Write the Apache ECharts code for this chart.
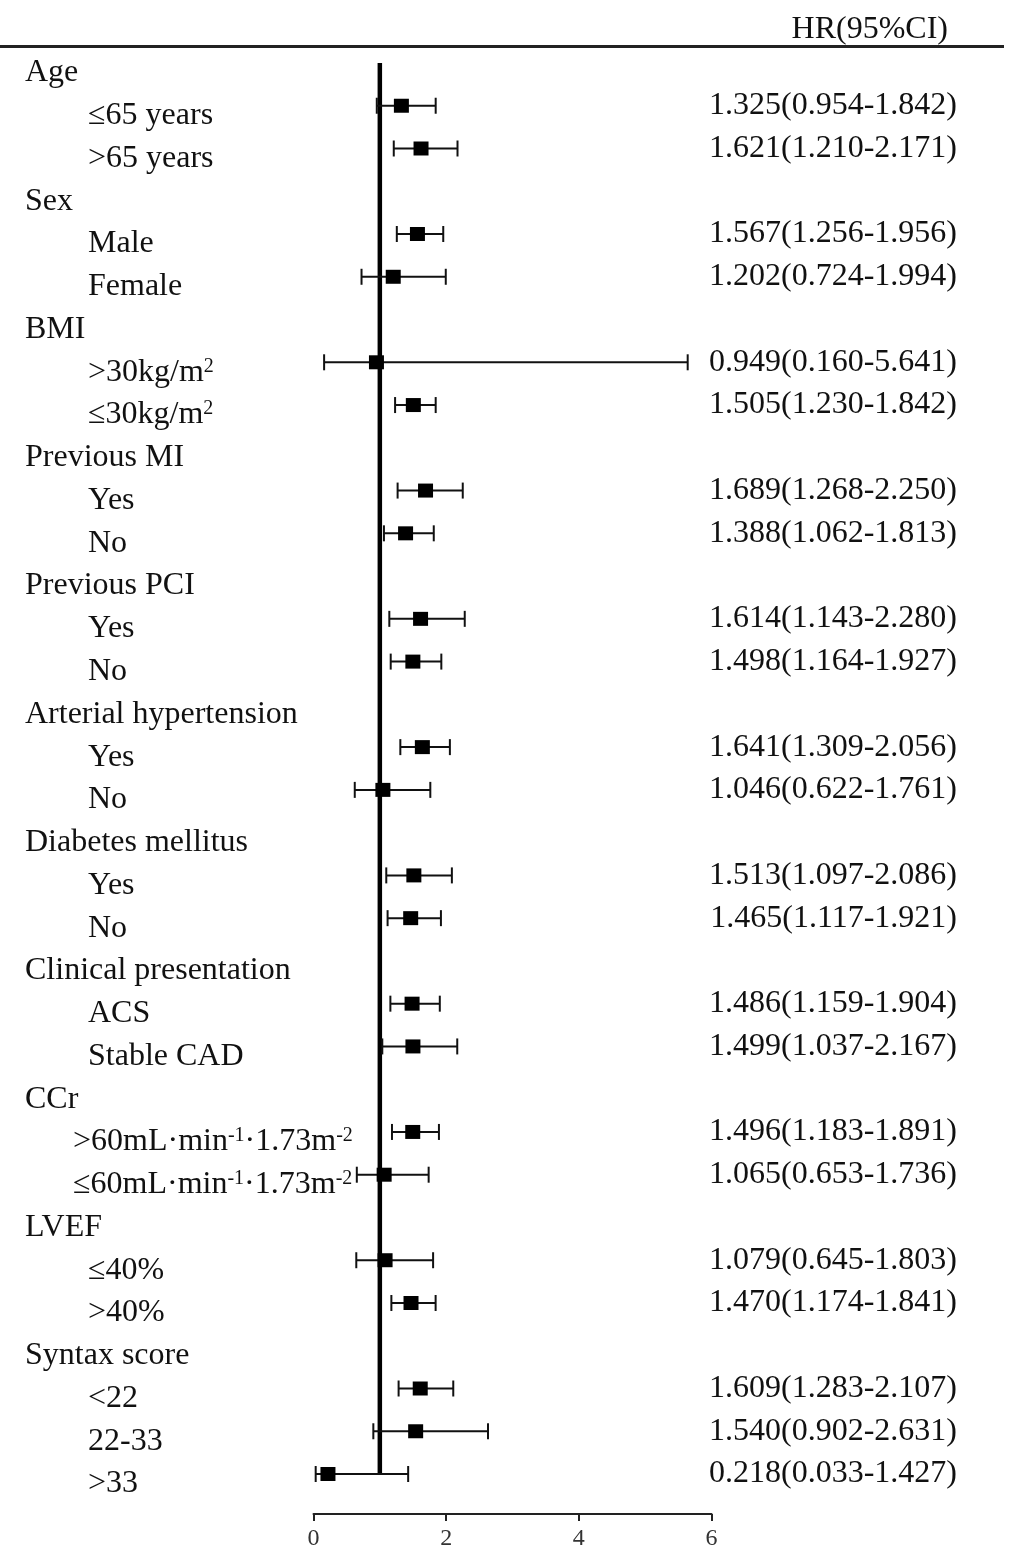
<!DOCTYPE html>
<html><head><meta charset="utf-8">
<script src="https://cdn.jsdelivr.net/npm/echarts@6/dist/echarts.min.js"></script>
<style>html,body{margin:0;padding:0;background:#fff}#c{width:1016px;height:1549px}</style>
</head><body><div id="c"></div>
<script>
// Row labels (^{...} marks superscript)
const rowLabels = [
  'Age','≤65 years','>65 years',
  'Sex','Male','Female',
  'BMI','>30kg/m^{2}','≤30kg/m^{2}',
  'Previous MI','Yes','No',
  'Previous PCI','Yes','No',
  'Arterial hypertension','Yes','No',
  'Diabetes mellitus','Yes','No',
  'Clinical presentation','ACS','Stable CAD',
  'CCr','>60mL·min^{-1}·1.73m^{-2}','≤60mL·min^{-1}·1.73m^{-2}',
  'LVEF','≤40%','>40%',
  'Syntax score','<22','22-33','>33'
];
// h = group header, s = sub item, w = sub item (less indent)
const rowKinds = [
  'h','s','s','h','s','s','h','s','s','h','s','s','h','s','s','h','s','s',
  'h','s','s','h','s','s','h','w','w','h','s','s','h','s','s','s'
];
const hrValues = [
  null,1.325,1.621, null,1.567,1.202, null,0.949,1.505, null,1.689,1.388,
  null,1.614,1.498, null,1.641,1.046, null,1.513,1.465, null,1.486,1.499,
  null,1.496,1.065, null,1.079,1.470, null,1.609,1.540,0.218
];
const ciLow = [
  null,0.954,1.210, null,1.256,0.724, null,0.160,1.230, null,1.268,1.062,
  null,1.143,1.164, null,1.309,0.622, null,1.097,1.117, null,1.159,1.037,
  null,1.183,0.653, null,0.645,1.174, null,1.283,0.902,0.033
];
const ciHigh = [
  null,1.842,2.171, null,1.956,1.994, null,5.641,1.842, null,2.250,1.813,
  null,2.280,1.927, null,2.056,1.761, null,2.086,1.921, null,1.904,2.167,
  null,1.891,1.736, null,1.803,1.841, null,2.107,2.631,1.427
];
const xTicks = [0, 2, 4, 6];
const refValue = 1;
const headerText = 'HR(95%CI)';

const FONT = '"Liberation Serif","Times New Roman",serif';
const rowKeys = rowLabels.map((_, i) => String(i));
const ciText = hrValues.map((v, i) => v == null ? '' :
  v.toFixed(3) + '(' + ciLow[i].toFixed(3) + '-' + ciHigh[i].toFixed(3) + ')');

function richLabel(i) {
  const parts = rowLabels[i].split(/\^\{([^}]*)\}/);
  let out = '';
  parts.forEach((p, k) => {
    if (p === '') return;
    if (k % 2 === 1) out += '{p|' + p + '}';
    else out += '{' + (k === 0 ? rowKinds[i] : 't') + '|' + p + '}';
  });
  return out;
}

const errData = [], ptData = [];
hrValues.forEach((v, i) => {
  if (v == null) return;
  errData.push([ciLow[i], i, ciHigh[i]]);
  ptData.push([v, i]);
});

const chart = echarts.init(document.getElementById('c'), null, {renderer: 'canvas'});
const base = {fontFamily: FONT, fontSize: 32, color: '#111'};
chart.setOption({
  animation: false,
  backgroundColor: '#fff',
  grid: {left: 313.5, right: 304.5, top: 41.6, bottom: 53.6, containLabel: false, outerBoundsMode: 'none'},
  graphic: [
    {type: 'text', right: 68, top: 14, style: {text: headerText, font: '32px ' + FONT, fill: '#111'}},
    {type: 'line', shape: {x1: 0, y1: 46.5, x2: 1004, y2: 46.5}, style: {stroke: '#222', lineWidth: 3}}
  ],
  xAxis: {
    type: 'value', min: xTicks[0], max: xTicks[xTicks.length - 1], interval: xTicks[1] - xTicks[0],
    offset: 18.6,
    axisLine: {show: true, lineStyle: {color: '#222', width: 2}},
    axisTick: {show: true, length: 7, lineStyle: {color: '#222', width: 2}},
    splitLine: {show: false},
    axisLabel: {fontFamily: FONT, fontSize: 24, color: '#333', margin: 13}
  },
  yAxis: [
    {
      type: 'category', inverse: true, data: rowKeys,
      axisLine: {show: false}, axisTick: {show: false}, splitLine: {show: false},
      axisLabel: {
        interval: 0, align: 'left', margin: 288.5, padding: [20, 0, 0, 0],
        formatter: (val) => richLabel(parseInt(val, 10)),
        rich: {
          h: Object.assign({}, base),
          s: Object.assign({padding: [0, 0, 0, 63]}, base),
          w: Object.assign({padding: [0, 0, 0, 48]}, base),
          t: Object.assign({}, base),
          p: {fontFamily: FONT, fontSize: 20, color: '#111', verticalAlign: 'top'}
        }
      }
    },
    {
      type: 'category', inverse: true, position: 'right', data: rowKeys,
      axisLine: {show: false}, axisTick: {show: false}, splitLine: {show: false},
      axisLabel: {
        interval: 0, align: 'right', margin: 245.5, padding: [10, 0, 0, 0],
        fontFamily: FONT, fontSize: 32, color: '#111',
        formatter: (val) => ciText[parseInt(val, 10)]
      }
    }
  ],
  series: [
    {
      type: 'line', yAxisIndex: 0, symbol: 'none', silent: true,
      data: [[refValue, 0], [refValue, rowLabels.length - 1]],
      lineStyle: {color: '#000', width: 4.5}, z: 1
    },
    {
      type: 'custom', yAxisIndex: 0, data: errData, encode: {x: [0, 2], y: 1}, z: 2,
      renderItem: (params, api) => {
        const y = api.value(1);
        const p1 = api.coord([api.value(0), y]);
        const p2 = api.coord([api.value(2), y]);
        const h = 8;
        const style = {stroke: '#111', lineWidth: 2};
        return {type: 'group', children: [
          {type: 'line', shape: {x1: p1[0], y1: p1[1], x2: p2[0], y2: p2[1]}, style},
          {type: 'line', shape: {x1: p1[0], y1: p1[1] - h, x2: p1[0], y2: p1[1] + h}, style},
          {type: 'line', shape: {x1: p2[0], y1: p2[1] - h, x2: p2[0], y2: p2[1] + h}, style}
        ]};
      }
    },
    {
      type: 'scatter', yAxisIndex: 0, data: ptData, symbol: 'rect', symbolSize: [15, 14],
      itemStyle: {color: '#000', opacity: 1}, z: 3
    }
  ]
});
</script></body></html>
